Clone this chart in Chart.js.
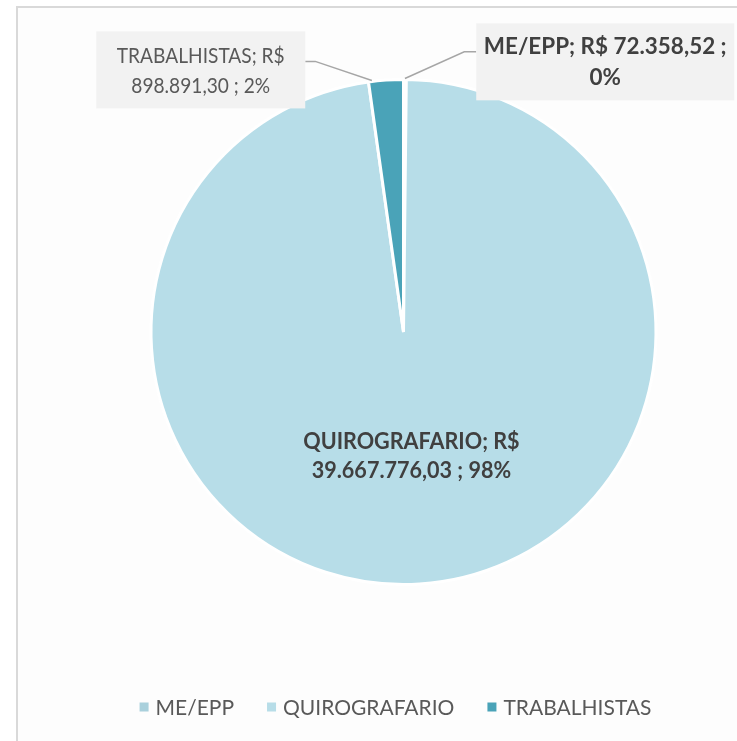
<!DOCTYPE html>
<html><head><meta charset="utf-8">
<script src="https://cdn.jsdelivr.net/npm/chart.js@4.4.1/dist/chart.umd.min.js"></script>
<style>html,body{margin:0;padding:0;background:#fff;overflow:hidden}
#wrap{position:absolute;left:0;top:0;width:737px;height:741px}</style>
</head><body><div id="wrap"><canvas id="c" width="737" height="741"></canvas></div>
<script>
const categories = ['ME/EPP', 'QUIROGRAFARIO', 'TRABALHISTAS'];
const values = [72358.52, 39667776.03, 898891.30];
const valueLabels = ['R$ 72.358,52', 'R$ 39.667.776,03', 'R$ 898.891,30'];
const percentLabels = ['0%', '98%', '2%'];
const firstLineWords = [4, 2, 2];
const colors = ['#a9d0dc', '#b7dde8', '#4aa3b8'];

const FONT = 'Lato, "Open Sans", sans-serif';

function labelLines(i) {
  const words = (categories[i] + '; ' + valueLabels[i] + ' ; ' + percentLabels[i]).split(' ');
  const n = firstLineWords[i];
  return [words.slice(0, n).join(' '), words.slice(n).join(' ')];
}
function drawText(ctx, t, x, y, align, sx) {
  ctx.save();
  ctx.translate(x, y);
  ctx.scale(sx || 1, 1);
  ctx.textAlign = align || 'center';
  ctx.textBaseline = 'alphabetic';
  ctx.fillText(t, 0, 0);
  ctx.restore();
}

const labelCfg = [
  { box: true, bold: true, color: '#404040', fx: 0.799, fy: -1.070, w: 258, h: 77, lh: 31, side: 'left', lineDy: -10, size: 22, sx: 1.02 },
  { box: false, bold: true, color: '#404040', radial: 0.49, lh: 29, size: 22, sx: 0.98 },
  { box: true, bold: false, color: '#595959', fx: -0.803, fy: -1.038, w: 209, h: 77, lh: 30, side: 'right', lineDy: -8.5, size: 22, sx: 0.87 }
];

const labelPlugin = {
  id: 'excelLabels',
  beforeDraw(chart) {
    const ctx = chart.ctx;
    ctx.save();
    ctx.fillStyle = '#fdfdfd';
    ctx.fillRect(17, 7, 720, 734);
    ctx.strokeStyle = '#d9d9d9';
    ctx.lineWidth = 2;
    ctx.beginPath();
    ctx.moveTo(17, 741); ctx.lineTo(17, 7); ctx.lineTo(737, 7);
    ctx.stroke();
    ctx.restore();
  },
  afterDatasetsDraw(chart) {
    const ctx = chart.ctx;
    const meta = chart.getDatasetMeta(0);
    meta.data.forEach((el, i) => {
      const cfg = labelCfg[i];
      const r = el.outerRadius, cx = el.x, cy = el.y;
      const lines = labelLines(i);
      let bx, by;
      if (cfg.radial) {
        const mid = (el.startAngle + el.endAngle) / 2;
        bx = cx + Math.cos(mid) * r * cfg.radial;
        by = cy + Math.sin(mid) * r * cfg.radial;
      } else {
        bx = cx + cfg.fx * r;
        by = cy + cfg.fy * r;
      }
      ctx.save();
      if (cfg.box) {
        const span = el.endAngle - el.startAngle;
        const a = i === 2 ? el.startAngle + 0.1 * span : (el.startAngle + el.endAngle) / 2;
        const px = cx + Math.cos(a) * (r + 1), py = cy + Math.sin(a) * (r + 1);
        const sx0 = cfg.side === 'right' ? bx + cfg.w / 2 : bx - cfg.w / 2;
        const sy0 = by + cfg.lineDy;
        const kx = cfg.side === 'right' ? sx0 + 10 : sx0 - 12;
        ctx.strokeStyle = '#a6a6a6';
        ctx.lineWidth = 1.5;
        ctx.beginPath();
        ctx.moveTo(sx0, sy0); ctx.lineTo(kx, sy0); ctx.lineTo(px, py);
        ctx.stroke();
        ctx.fillStyle = '#f2f2f2';
        ctx.fillRect(bx - cfg.w / 2, by - cfg.h / 2, cfg.w, cfg.h);
      }
      ctx.fillStyle = cfg.color;
      ctx.font = (cfg.bold ? 'bold ' : '') + cfg.size + 'px ' + FONT;
      const cap = cfg.size * 0.72;
      const top = by - cfg.lh / 2;
      lines.forEach((t, k) => {
        drawText(ctx, t, bx, top + k * cfg.lh + cap / 2, 'center', cfg.sx);
      });
      ctx.restore();
    });
  },
  afterDraw(chart) {
    const ctx = chart.ctx;
    const ds = chart.data.datasets[0];
    const el0 = chart.getDatasetMeta(0).data[0];
    ctx.save();
    const size = 21;
    ctx.font = size + 'px ' + FONT;
    const box = 9, gap = 7, spacing = 33;
    const widths = chart.data.labels.map(l => ctx.measureText(l).width);
    const total = widths.reduce((s, w) => s + box + gap + w, 0) + spacing * (widths.length - 1);
    let x = el0.x - 8 - total / 2;
    const y = 707;
    chart.data.labels.forEach((l, i) => {
      ctx.fillStyle = ds.backgroundColor[i];
      ctx.fillRect(x, y - box / 2, box, box);
      x += box + gap;
      ctx.fillStyle = '#595959';
      drawText(ctx, l, x, y + size * 0.72 / 2, 'left', 1);
      x += widths[i] + spacing;
    });
    ctx.restore();
  }
};

new Chart(document.getElementById('c'), {
  type: 'pie',
  data: {
    labels: categories,
    datasets: [{
      data: values,
      backgroundColor: colors,
      borderColor: '#ffffff',
      borderWidth: 3
    }]
  },
  options: {
    responsive: false,
    animation: false,
    layout: { padding: { left: 149, right: 79, top: 78, bottom: 155 } },
    plugins: { legend: { display: false }, tooltip: { enabled: false } }
  },
  plugins: [labelPlugin]
});
</script></body></html>
